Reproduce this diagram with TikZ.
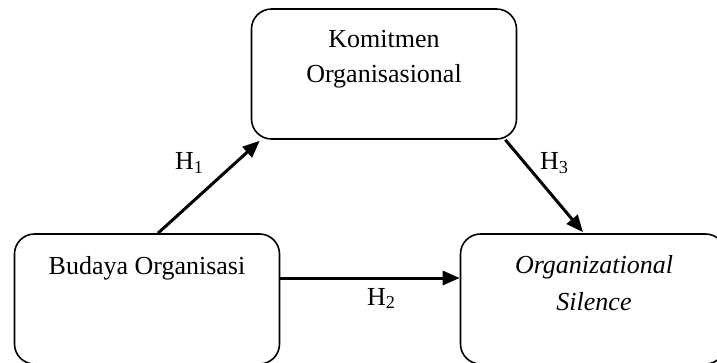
\documentclass[tikz,border=0pt]{standalone}
\usepackage{fontspec}
\setmainfont{Liberation Serif}
\usetikzlibrary{arrows.meta}
\begin{document}
\begin{tikzpicture}[x=1pt,y=-1pt,
  box/.style={draw=black,line width=1.6pt,rounded corners=20pt,minimum width=265pt,minimum height=130pt,inner sep=0pt},
  txt/.style={inner sep=0pt,anchor=base,font=\fontsize{26}{36}\selectfont},
  lbl/.style={inner sep=0pt,anchor=base west,font=\fontsize{26}{36}\selectfont},
  arr/.style={line width=3pt,-{Triangle[length=17pt,width=14pt]}}]
\useasboundingbox (0,0) rectangle (717,363);
\clip (0,0) rectangle (717,363);
\node[box] (kom) at (384,74) {};
\node[box] (bud) at (147,299) {};
\node[box] (org) at (593,299) {};
\node[txt] (komA) at (384,48) {Komitmen};
\node[txt] (komB) at (384,83) {Organisasional};
\node[txt] (budA) at (147,274) {Budaya Organisasi};
\node[txt] (orgA) at (594,273) {\itshape Organizational};
\node[txt] (orgB) at (594,310) {\itshape Silence};
\draw[arr] ([xshift=11pt]bud.north) -- ([xshift=9pt,yshift=-1pt]kom.south west);
\draw[arr] ([xshift=-12pt]kom.south east) -- ([xshift=-10pt,yshift=1pt]org.north);
\draw[arr] ([yshift=21pt]bud.east) -- ([yshift=21pt]org.west);
\node[lbl] (h1) at (175,170) {H\textsubscript{1}};
\node[lbl] (h3) at (540,170) {H\textsubscript{3}};
\node[lbl] (h2) at (367,305) {H\textsubscript{2}};
\end{tikzpicture}
\end{document}
